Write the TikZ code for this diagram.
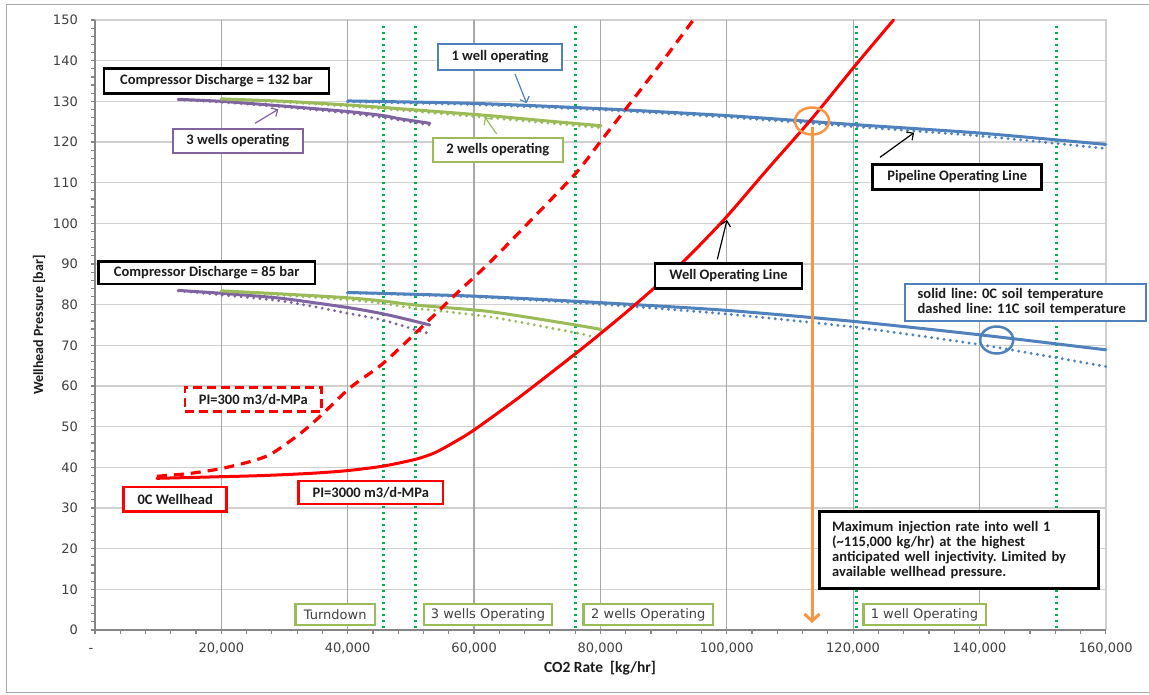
\documentclass[tikz,border=0pt]{standalone}
\usepackage{fontspec}
\setmainfont{Carlito}
\newfontfamily\tickfont{DejaVu Sans}
\usetikzlibrary{arrows.meta}
\frenchspacing
\definecolor{xblue}{RGB}{79,129,189}
\definecolor{xgreen}{RGB}{155,187,89}
\definecolor{xpurple}{RGB}{128,100,162}
\definecolor{xorange}{RGB}{247,150,70}
\definecolor{xred}{RGB}{255,0,0}
\definecolor{vgreen}{RGB}{0,176,80}
\definecolor{tickgray}{RGB}{64,64,64}
\definecolor{hgrid}{RGB}{208,208,208}
\definecolor{vgrid}{RGB}{168,168,168}
\definecolor{axisgray}{RGB}{134,134,134}
\definecolor{framegray}{RGB}{170,170,170}
\definecolor{calltext}{RGB}{28,28,28}
\begin{document}
\begin{tikzpicture}[x=1pt,y=-1pt,
  ticklab/.style={font=\tickfont\fontsize{13}{15}\selectfont, text=tickgray, inner sep=0pt},
  callout/.style={draw=black, line width=2.6pt, fill=white, inner sep=0pt, text=calltext, font=\bfseries\fontsize{14.5}{15.3}\selectfont},
  thinbox/.style={callout, line width=2.2pt},
  zone/.style={draw=xgreen, line width=2.2pt, fill=white, inner sep=0pt, minimum height=20.4pt, text=tickgray, font=\tickfont\fontsize{13}{15}\selectfont},
  pointer/.style={line width=1.2pt, -{Straight Barb[length=5pt,width=10pt]}},
  serie/.style={line width=3pt, line join=round, line cap=round},
  dotserie/.style={line width=3.2pt, line cap=round, dash pattern=on 0pt off 6.3pt},
  zoneline/.style={draw=vgreen, line width=3pt, dash pattern=on 2.6pt off 3.4pt},
  axisline/.style={draw=axisgray, line width=1.2pt}]

\useasboundingbox (0,0) rectangle (1149,694);
\fill[white] (0,0) rectangle (1149,694);
% outer frame (right side lies outside the picture)
\draw[framegray, line width=1.5pt] (1160,4.3) -- (6.3,4.3) -- (6.3,692.5) -- (1160,692.5);

\begin{scope}[shift={(95pt,-630pt)}, x=6.3175pt, y=4.0667pt]
  % grid
  \foreach \v in {10,20,...,140} \draw[hgrid, line width=1.4pt] (0,\v) -- (160,\v);
  \draw[hgrid, line width=1.4pt] (0,150) -- (160,150) -- (160,0);
  \foreach \v in {20,40,...,140} \draw[vgrid, line width=1.2pt] (\v,0) -- (\v,150);
  % axes and ticks
  \draw[axisline] (0,150) -- (0,0) -- (160,0);
  \foreach \v in {0,2,...,150} \draw[axisline] (0,\v) -- ++(-4.5pt,0);
  \foreach \v in {0,4,...,160} \draw[axisline] (\v,0) -- ++(0,-4pt);
  \foreach \v in {0,10,...,150} \node[ticklab, anchor=east] at ([xshift=-17pt]0,\v) {\v};
  \node[ticklab, anchor=base] at ([xshift=-4pt,yshift=-22.7pt]0,0) {-};
  \foreach \v/\t in {20/{20,000},40/{40,000},60/{60,000},80/{80,000},100/{100,000},120/{120,000},140/{140,000},160/{160,000}}
    \node[ticklab, anchor=base] at ([yshift=-22.7pt]\v,0) {\t};

  % operating zone limits
  \foreach \v in {45.6,50.8,76.1,120.5,152.2} \draw[zoneline] (\v,0.4) -- (\v,149.4);

  % upper series (132 bar)
  \draw[dotserie, xpurple] plot[smooth, tension=0.4] coordinates {(13.2,130.4) (20,129.8) (30,128.6) (40,127.1) (45.6,126.0) (53,124.2)};
  \draw[serie, xpurple] plot[smooth, tension=0.4] coordinates {(13.2,130.5) (20,130.0) (29.3,128.9) (40,127.5) (45.6,126.5) (48.3,125.7) (53,124.6)};
  \draw[dotserie, xgreen] plot[smooth, tension=0.4] coordinates {(20,130.5) (30,129.8) (40,128.8) (50,127.6) (61.5,126.1) (70,124.9) (80,123.5)};
  \draw[serie, xgreen] plot[smooth, tension=0.4] coordinates {(20,130.6) (30,130.0) (40,129.1) (45.6,128.5) (61.5,126.6) (70,125.4) (80.1,124.0)};
  \draw[dotserie, xblue] plot[smooth, tension=0.4] coordinates {(40,129.9) (60,129.2) (80,127.9) (100,126.1) (120,123.8) (140,121.5) (160,118.4)};
  \draw[serie, xblue] plot[smooth, tension=0.4] coordinates {(40,130.1) (60,129.5) (80,128.2) (100,126.5) (120,124.3) (140,122.2) (160,119.4)};

  % lower series (85 bar)
  \draw[dotserie, xpurple] plot[smooth, tension=0.4] coordinates {(13.2,83.4) (20,82.4) (30,80.8) (40,77.9) (45.6,76.2) (50.8,73.8) (53.3,72.7)};
  \draw[serie, xpurple] plot[smooth, tension=0.4] coordinates {(13.2,83.5) (20,82.8) (29.3,81.6) (40,79.3) (45.1,77.9) (48.3,76.8) (53,75.0)};
  \draw[dotserie, xgreen] plot[smooth, tension=0.4] coordinates {(20,83.3) (30,82.3) (40,81.2) (45.1,80.4) (50.8,79.1) (62.5,77.0) (76.1,73.1) (78.8,72.1)};
  \draw[serie, xgreen] plot[smooth, tension=0.4] coordinates {(20,83.4) (30,82.6) (40,81.7) (45.6,80.9) (50.8,79.9) (62.5,78.3) (76.1,75.0) (80.1,73.9)};
  \draw[dotserie, xblue] plot[smooth, tension=0.4] coordinates {(40,82.9) (60,81.9) (80,80.1) (100,77.7) (120,74.5) (140,70.2) (160,64.8)};
  \draw[serie, xblue] plot[smooth, tension=0.4] coordinates {(40,83.0) (60,82.1) (80,80.5) (100,78.6) (120,75.9) (140,72.6) (160,68.9)};

  % well operating lines
  \draw[xred, line width=3.2pt, dash pattern=on 10pt off 7pt] plot[smooth, tension=0.45] coordinates {(9.8,37.8) (15,38.5) (20,39.7) (25,41.6) (28,43.4) (32.4,48.2) (35.6,52.5) (40.4,59.6) (45.4,65.3) (50.8,73.1) (57.2,82.7) (62.5,90.4) (68.9,100.6) (76.1,112.3) (80.1,120.3) (85,130.1) (90,140.2) (94.7,150)};
  \draw[xred, serie] plot[smooth, tension=0.45] coordinates {(9.8,37.3) (15,37.5) (20,37.7) (25,37.9) (30,38.2) (35,38.6) (40,39.2) (45.6,40.3) (50.8,42.0) (53.8,43.6) (57,46.3) (60.2,49.4) (67.3,57.4) (76.1,68.0) (80.1,73.0) (85.2,79.6) (92.6,89.8) (99.5,100.8) (106.5,113.4) (113.5,125.8) (120.6,139.3) (126.4,150)};
\end{scope}

% highlight ellipses
\draw[xorange, line width=2.5pt] (812,121) ellipse [x radius=17pt, y radius=13.5pt];
\draw[xblue, line width=2.5pt] (996.7,340) ellipse [x radius=16.5pt, y radius=13.5pt];

% axis titles
\node[font=\bfseries\fontsize{14}{16}\selectfont, text=calltext, rotate=90] (ytitle) at (39,325) {Wellhead Pressure [bar]};
\node[font=\bfseries\fontsize{15.5}{17}\selectfont, text=calltext] (xtitle) at (600,668) {CO2 Rate\ \ [kg/hr]};

% callouts
\node[callout, minimum width=225pt, minimum height=24.6pt] (cd132) at (216.5,81) {Compressor Discharge = 132 bar};
\node[thinbox, draw=xpurple, minimum width=130pt, minimum height=24.6pt] (w3) at (237.8,141) {3 wells operating};
\node[thinbox, draw=xblue, minimum width=124.6pt, minimum height=25.4pt] (w1) at (500,57) {1 well operating};
\node[thinbox, draw=xgreen, minimum width=130pt, minimum height=24.6pt] (w2) at (497.8,150) {2 wells operating};
\node[callout, minimum width=169pt, minimum height=25.4pt] (pipe) at (957.2,177) {Pipeline Operating Line};
\node[callout, minimum width=147pt, minimum height=24.6pt] (wellop) at (728.5,276) {Well Operating Line};
\node[callout, minimum width=216.7pt, minimum height=22.3pt] (cd85) at (206.7,272.8) {Compressor Discharge = 85 bar};
\node[callout, draw=xred, dash pattern=on 9pt off 5pt, minimum width=136.7pt, minimum height=24pt] (pi300) at (253.3,399.7) {PI=300 m3/d-MPa};
\node[callout, draw=xred, minimum width=103pt, minimum height=24.3pt] (wellhead) at (175.2,499.2) {0C Wellhead};
\node[callout, draw=xred, minimum width=144.3pt, minimum height=23pt] (pi3000) at (370.8,492.5) {PI=3000 m3/d-MPa};
\node[thinbox, draw=xblue, minimum width=241pt, minimum height=37pt, inner xsep=11.5pt, text width=216pt, align=left, font=\bfseries\fontsize{14.5}{14.4}\selectfont] (soil) at (1025.7,302.2) {solid line: 0C soil temperature\\dashed line: 11C soil temperature};
\node[callout, minimum width=279pt, minimum height=77.5pt, inner xsep=12pt, text width=254pt, align=left] (maxinj) at (959.2,550) {Maximum injection rate into well 1\\(\textasciitilde 115,000 kg/hr) at the highest\\anticipated well injectivity. Limited by\\available wellhead pressure.};

% operating zone labels
\node[zone, minimum width=79.5pt] (zturn) at (335.2,614.5) {Turndown};
\node[zone, minimum width=128.4pt] (z3) at (488,614.5) {3 wells Operating};
\node[zone, minimum width=129.8pt] (z2) at (648.3,614.5) {2 wells Operating};
\node[zone, minimum width=122.2pt] (z1) at (924.5,614.5) {1 well Operating};

% pointers
\coordinate (p3s) at (255,123.3);   \coordinate (p3e) at (278.3,109.3);
\coordinate (p1s) at (515,74);      \coordinate (p1e) at (526.7,103.3);
\coordinate (p2s) at (496.7,134);   \coordinate (p2e) at (485,117.3);
\coordinate (pps) at (880,157.3);   \coordinate (ppe) at (914,132.7);
\coordinate (pws) at (717.3,259.3); \coordinate (pwe) at (727,220);
\draw[pointer, xpurple] (p3s) -- (p3e);
\draw[pointer, xblue] (p1s) -- (p1e);
\draw[pointer, xgreen] (p2s) -- (p2e);
\draw[pointer, black] (pps) -- (ppe);
\draw[pointer, black] (pws) -- (pwe);

% maximum rate arrow
\coordinate (os) at (812,127);
\coordinate (oe) at (812,623);
\draw[xorange, line width=3pt, -{Straight Barb[length=7pt,width=15pt]}] (os) -- (oe);
\end{tikzpicture}
\end{document}
